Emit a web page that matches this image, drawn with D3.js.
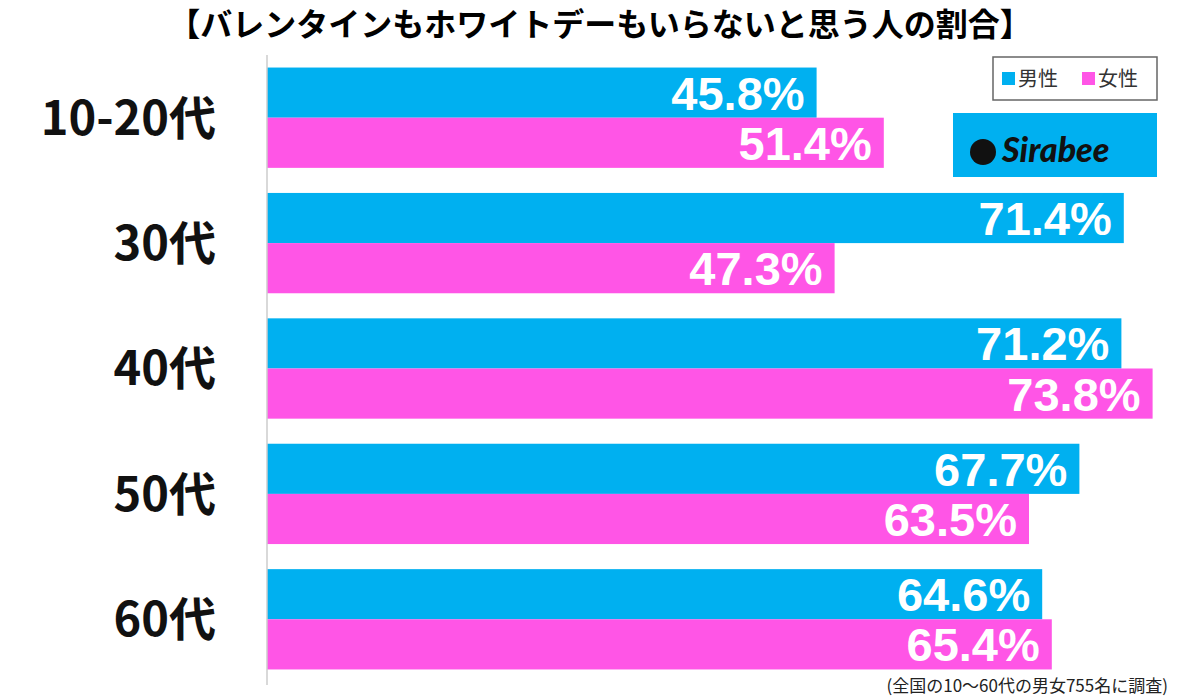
<!DOCTYPE html>
<html><head><meta charset="utf-8">
<script src="https://cdn.jsdelivr.net/npm/d3@7"></script>
<style>body{margin:0;background:#fff}svg{display:block}</style>
</head><body>
<script>
const categories = ["10-20代", "30代", "40代", "50代", "60代"];
const male = [45.8, 71.4, 71.2, 67.7, 64.6];
const female = [51.4, 47.3, 73.8, 63.5, 65.4];
const seriesNames = ["男性", "女性"];
const colors = ["#00b0f0", "#ff55e6"];

const W = 1200, H = 699;
const font = "'Noto Sans CJK JP', 'Noto Sans', sans-serif";
const numFont = "'Liberation Sans', Arial, sans-serif";
const svg = d3.select("body").append("svg").attr("width", W).attr("height", H);

const x = d3.scaleLinear().domain([0, 100]).range([267, 1467]);
const y = d3.scaleBand().domain(categories).range([55, 682]).paddingInner(0.2).paddingOuter(0.1);
const sub = d3.scaleBand().domain([0, 1]).range([0, y.bandwidth()]);

svg.append("text").attr("x", 600).attr("y", 36).attr("text-anchor", "middle")
  .attr("font-family", font).attr("font-weight", 700).attr("font-size", 32)
  .text("【バレンタインもホワイトデーもいらないと思う人の割合】");

const groups = svg.selectAll("g.grp").data(categories).join("g")
  .attr("transform", d => `translate(0,${y(d)})`);

groups.each(function (c, i) {
  const g = d3.select(this);
  [male[i], female[i]].forEach((v, s) => {
    g.append("rect").attr("x", x(0)).attr("y", sub(s)).attr("width", x(v) - x(0))
      .attr("height", sub.bandwidth()).attr("fill", colors[s]);
    g.append("text").attr("x", x(v) - 12).attr("y", sub(s) + sub.bandwidth() / 2 + 17)
      .attr("text-anchor", "end").attr("font-family", numFont).attr("font-weight", 700)
      .attr("font-size", 47).attr("fill", "#fff").text(v.toFixed(1) + "%");
  });
  g.append("text").attr("x", 216).attr("y", y.bandwidth() / 2 + 17)
    .attr("text-anchor", "end").attr("font-family", font).attr("font-weight", 700)
    .attr("font-size", 47).attr("fill", "#111").text(c);
});

svg.append("line").attr("x1", x(0)).attr("x2", x(0)).attr("y1", 55).attr("y2", 685)
  .attr("stroke", "#ccc").attr("stroke-width", 1.5);

// legend
const lg = svg.append("g");
lg.append("rect").attr("x", 993).attr("y", 57).attr("width", 164).attr("height", 43)
  .attr("fill", "#fff").attr("stroke", "#666").attr("stroke-width", 1.5);
seriesNames.forEach((n, s) => {
  lg.append("rect").attr("x", 1002 + s * 80).attr("y", 72).attr("width", 13).attr("height", 13).attr("fill", colors[s]);
  lg.append("text").attr("x", 1018 + s * 80).attr("y", 86).attr("font-family", font)
    .attr("font-size", 20).attr("fill", "#333").text(n);
});

// logo
svg.append("rect").attr("x", 953).attr("y", 113).attr("width", 204).attr("height", 64).attr("fill", "#00b0f0");
svg.append("circle").attr("cx", 983).attr("cy", 152).attr("r", 13).attr("fill", "#111");
svg.append("text").attr("x", 1002).attr("y", 162).attr("font-family", "Lato, sans-serif")
  .attr("font-weight", 900).attr("font-style", "italic").attr("font-size", 34).attr("fill", "#111").text("Sirabee");

svg.append("text").attr("x", 1168).attr("y", 692).attr("text-anchor", "end")
  .attr("font-family", font).attr("font-size", 17).attr("fill", "#222")
  .text("(全国の10〜60代の男女755名に調査)");
</script>
</body></html>
